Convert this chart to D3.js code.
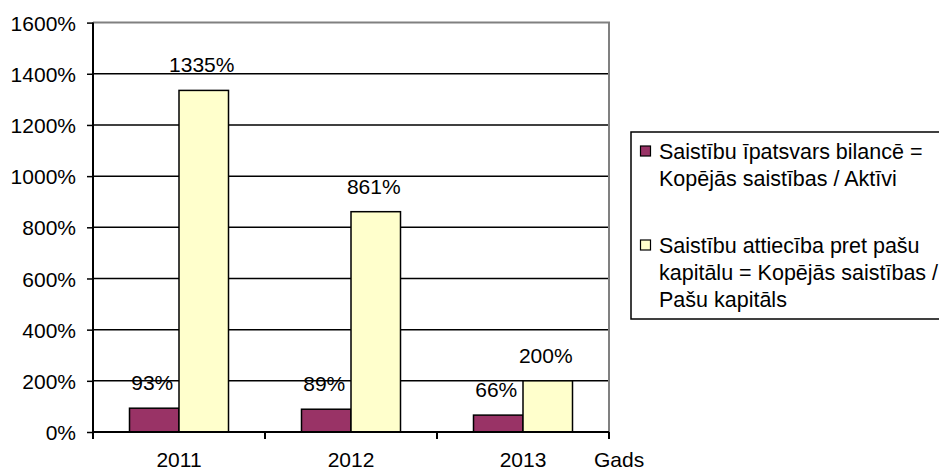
<!DOCTYPE html>
<html><head><meta charset="utf-8">
<script src="https://cdn.jsdelivr.net/npm/d3@7"></script>
<style>
html,body{margin:0;padding:0;background:#fff;}
svg{display:block;font-family:"Liberation Sans",Arial,sans-serif;}
</style></head>
<body>
<svg id="chart" width="939" height="472"></svg>
<script>
const years = ["2011", "2012", "2013"];
const seriesNames = ["Saistību īpatsvars bilancē = Kopējās saistības / Aktīvi",
                     "Saistību attiecība pret pašu kapitālu = Kopējās saistības / Pašu kapitāls"];
const legendLines = [["Saistību īpatsvars bilancē =", "Kopējās saistības / Aktīvi"],
                     ["Saistību attiecība pret pašu", "kapitālu = Kopējās saistības /", "Pašu kapitāls"]];
const liabilitiesShare = [93, 89, 66];
const debtToEquity = [1335, 861, 200];
const yTicks = [0, 200, 400, 600, 800, 1000, 1200, 1400, 1600];
const colors = ["#993366", "#FFFFCC"];
const xAxisTitle = "Gads";

const svg = d3.select("#chart");
const L = 93, R = 609, T = 22.6, B = 432;
const fs = "21px";
const lfs = "21.5px";

const x = d3.scaleBand().domain(years).range([L, R]).padding(0);
const bw = x.bandwidth();
const barW = 49.5;
const x1 = d3.scaleBand().domain([0, 1]).range([bw / 2 - barW, bw / 2 + barW]).padding(0);
const y = d3.scaleLinear().domain([0, 1600]).range([B, T]);

// gridlines
svg.append("g").selectAll("line").data(yTicks.filter(t => t > 0 && t < 1600)).join("line")
  .attr("x1", L).attr("x2", R).attr("y1", d => y(d)).attr("y2", d => y(d))
  .attr("stroke", "#000").attr("stroke-width", 1.5);
// plot border top/right (gray)
svg.append("path").attr("d", `M${L},${y(1600)}H${R}V${B}`)
  .attr("fill", "none").attr("stroke", "#808080").attr("stroke-width", 2);

// bars
const series = [liabilitiesShare, debtToEquity];
series.forEach((vals, si) => {
  const g = svg.append("g");
  g.selectAll("rect").data(vals).join("rect")
    .attr("x", (d, i) => x(years[i]) + x1(si))
    .attr("y", d => y(d))
    .attr("width", x1.bandwidth())
    .attr("height", d => B - y(d))
    .attr("fill", colors[si]).attr("stroke", "#000").attr("stroke-width", 1.5);
  g.selectAll("text").data(vals).join("text")
    .attr("x", (d, i) => x(years[i]) + x1(si) + x1.bandwidth() / 2 - 2)
    .attr("y", d => y(d) - 18)
    .attr("text-anchor", "middle").attr("font-size", fs).attr("fill", "#000")
    .text(d => d + "%");
});

// y axis
const yAxis = d3.axisLeft(y).tickValues(yTicks).tickFormat(d => d + "%").tickSize(6).tickPadding(11);
const ya = svg.append("g").attr("transform", `translate(${L},0)`).call(yAxis);
ya.select(".domain").attr("stroke", "#000").attr("stroke-width", 2).attr("d", `M0,${T}V${B}`);
ya.selectAll(".tick line").attr("stroke", "#000").attr("stroke-width", 1.5);
ya.selectAll(".tick text").attr("font-size", fs).attr("font-family", "Liberation Sans, Arial, sans-serif").attr("fill", "#000").attr("dy", "0.36em");

// x axis
const xa = svg.append("g").attr("transform", `translate(0,${B})`)
  .call(d3.axisBottom(x).tickSize(0).tickPadding(20));
xa.select(".domain").attr("stroke", "#000").attr("stroke-width", 2).attr("d", `M${L},0H${R}`);
xa.selectAll(".tick text").attr("font-size", fs).attr("font-family", "Liberation Sans, Arial, sans-serif").attr("fill", "#000").attr("dy", "0.72em");
// category boundary ticks
const bounds = years.map(d => x(d)).concat([R]);
svg.append("g").selectAll("line").data(bounds).join("line")
  .attr("x1", d => d).attr("x2", d => d).attr("y1", B).attr("y2", B + 7)
  .attr("stroke", "#000").attr("stroke-width", 2);

svg.append("text").attr("x", 594).attr("y", 467).attr("font-size", fs).attr("fill", "#000").text(xAxisTitle);

// legend
const lg = svg.append("g");
lg.append("rect").attr("x", 631).attr("y", 132).attr("width", 330).attr("height", 187)
  .attr("fill", "#fff").attr("stroke", "#000").attr("stroke-width", 1.5);
const itemY = [146, 240];
legendLines.forEach((lines, i) => {
  lg.append("rect").attr("x", 640.5).attr("y", itemY[i]).attr("width", 10).attr("height", 10)
    .attr("fill", colors[i]).attr("stroke", "#000").attr("stroke-width", 1.2);
  const t = lg.append("text").attr("x", 659).attr("y", itemY[i] + 13).attr("font-size", lfs).attr("fill", "#000");
  lines.forEach((ln, j) => t.append("tspan").attr("x", 659).attr("dy", j === 0 ? 0 : 27).text(ln));
});
</script>
</body></html>
